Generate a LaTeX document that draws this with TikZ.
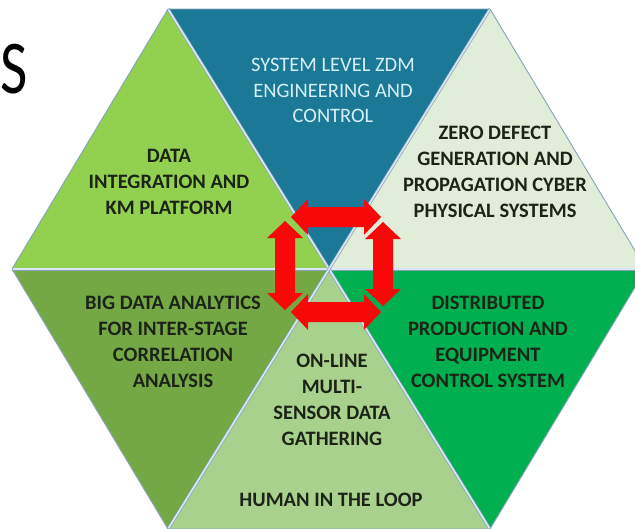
\documentclass[tikz,border=0pt]{standalone}
\usepackage{fontspec}
\setmainfont{Carlito}
\definecolor{cTop}{HTML}{1B7896}
\definecolor{cUL}{HTML}{92D050}
\definecolor{cUR}{HTML}{E0EDD8}
\definecolor{cLL}{HTML}{74A845}
\definecolor{cBot}{HTML}{A9D18E}
\definecolor{cLR}{HTML}{00B050}
\definecolor{cText}{HTML}{1C2418}
\definecolor{cTopText}{HTML}{D6EFF6}
\definecolor{cEdge}{HTML}{86A3BA}
\definecolor{cSepIn}{HTML}{D8E8F4}
\definecolor{cArrow}{HTML}{F80808}
\definecolor{cGap}{HTML}{FFD8D0}
\tikzset{
  lbl/.style={font=\fontsize{20.5}{26}\selectfont\bfseries, align=center, text=cText, inner sep=0pt},
  toplbl/.style={font=\fontsize{20.5}{25.5}\selectfont, align=center, text=cTopText, inner sep=0pt},
  sepline/.style={draw=cEdge, line width=0.7pt, double=cSepIn, double distance=1.6pt},
  outline/.style={draw=cEdge, line width=0.9pt, line join=miter},
  harrowp/.style n args={3}{insert path={(#1,#3) -- (#1+17,#3-18) -- (#1+17,#3-10) -- (#2-17,#3-10) -- (#2-17,#3-18) -- (#2,#3) -- (#2-17,#3+18) -- (#2-17,#3+10) -- (#1+17,#3+10) -- (#1+17,#3+18) -- cycle}},
  varrowp/.style n args={3}{insert path={(#1,#2) -- (#1+18,#2+17) -- (#1+10,#2+17) -- (#1+10,#3-17) -- (#1+18,#3-17) -- (#1,#3) -- (#1-18,#3-17) -- (#1-10,#3-17) -- (#1-10,#2+17) -- (#1-18,#2+17) -- cycle}}
}
\begin{document}
\begin{tikzpicture}[x=1pt,y=-1pt]
\useasboundingbox (0,0) rectangle (635,528);
\fill[white] (0,0) rectangle (635,528);
\clip (0,0) rectangle (635,528);
% hexagon corners
\coordinate (C) at (329,269);
\coordinate (L) at (12,269);
\coordinate (TL) at (168,9);
\coordinate (TR) at (490,9);
\coordinate (R) at (646,269);
\coordinate (BR) at (490,529);
\coordinate (BL) at (168,529);
% triangles
\fill[cTop] (TL) -- (TR) -- (C) -- cycle;
\fill[cUL] (L) -- (TL) -- (C) -- cycle;
\fill[cUR] (TR) -- (R) -- (C) -- cycle;
\fill[cLL] (L) -- (BL) -- (C) -- cycle;
\fill[cBot] (BL) -- (BR) -- (C) -- cycle;
\fill[cLR] (BR) -- (R) -- (C) -- cycle;
% separators and outline
\draw[sepline] (L) -- (R);
\draw[sepline] (TL) -- (BR);
\draw[sepline] (TR) -- (BL);
\draw[outline] (L) -- (TL) -- (TR) -- (R) -- (BR) -- (BL) -- cycle;
% fragment of a title letter
\node[anchor=base west, inner sep=0pt, font=\fontsize{76}{76}\selectfont, xscale=0.78] (S) at (0,93) {S};
% labels
\node[toplbl] (sys) at (333,90.5) {SYSTEM LEVEL ZDM\\ENGINEERING AND\\CONTROL};
\node[lbl] (data) at (169,181.5) {DATA\\INTEGRATION AND\\KM PLATFORM};
\node[lbl] (zero) at (495,172) {ZERO DEFECT\\GENERATION AND\\PROPAGATION CYBER\\PHYSICAL SYSTEMS};
\node[lbl] (big) at (173,341.5) {BIG DATA ANALYTICS\\FOR INTER-STAGE\\CORRELATION\\ANALYSIS};
\node[lbl] (dist) at (488,341.5) {DISTRIBUTED\\PRODUCTION AND\\EQUIPMENT\\CONTROL SYSTEM};
\node[lbl] (online) at (332,400) {ON-LINE\\MULTI-\\SENSOR DATA\\GATHERING};
\node[lbl] (human) at (331,500) {HUMAN IN THE LOOP};
% red loop of double arrows
\fill[cArrow, varrowp={285}{221}{310}];
\fill[cArrow, varrowp={383}{222}{306}];
\begin{scope}
  \clip[varrowp={285}{221}{310}, varrowp={383}{222}{306}];
  \draw[cGap, line width=2.2pt, harrowp={291}{381}{217}, harrowp={291}{381}{312}];
\end{scope}
\fill[cArrow, harrowp={291}{381}{217}];
\fill[cArrow, harrowp={291}{381}{312}];
\end{tikzpicture}
\end{document}
